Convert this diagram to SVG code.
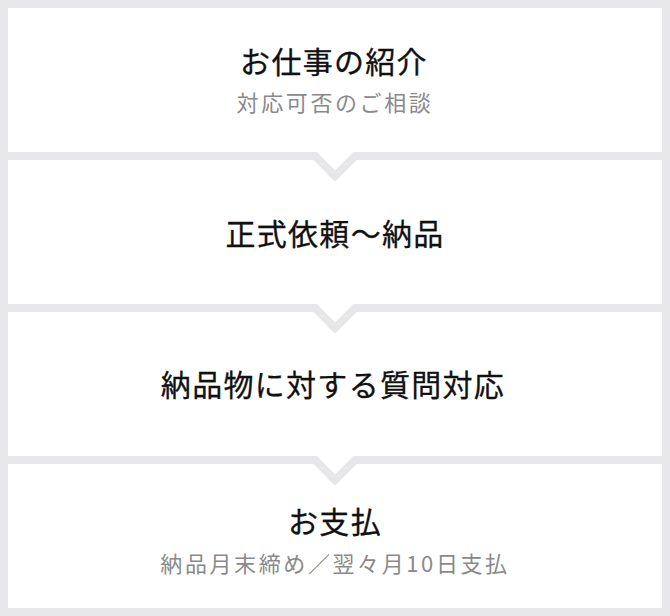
<svg xmlns="http://www.w3.org/2000/svg" width="670" height="616" viewBox="0 0 670 616">
  <style>
    .box { fill: #ffffff; }
    .title { font-family: "Noto Sans CJK JP", "Noto Sans", sans-serif; font-size: 30px; font-weight: 400; fill: #111111; stroke: #111111; stroke-width: 0.3px; text-anchor: middle; letter-spacing: 1.3px; }
    .sub { font-family: "Noto Sans CJK JP", "Noto Sans", sans-serif; font-size: 22px; font-weight: 400; fill: #8a8a8a; text-anchor: middle; letter-spacing: 2.6px; }
    .notch { fill: #ffffff; }
    .chev { fill: none; stroke: #e7e7e9; stroke-width: 8; stroke-linejoin: miter; stroke-miterlimit: 10; }
  </style>
  <rect x="0" y="0" width="670" height="616" fill="#e7e7e9"/>

  <g id="step1">
    <rect class="box" x="8" y="8" width="654" height="144"/>
    <text class="title" x="334" y="73">お仕事の紹介</text>
    <text class="sub" x="335" y="110.5">対応可否のご相談</text>
  </g>
  <g id="step2">
    <rect class="box" x="8" y="160" width="654" height="144"/>
    <text class="title" x="335" y="245">正式依頼〜納品</text>
  </g>
  <g id="step3">
    <rect class="box" x="8" y="312" width="654" height="144"/>
    <text class="title" x="333" y="396">納品物に対する質問対応</text>
  </g>
  <g id="step4">
    <rect class="box" x="8" y="464" width="654" height="144"/>
    <text class="title" x="335" y="533">お支払</text>
    <text class="sub" x="335" y="571.5">納品月末締め／翌々月10日支払</text>
  </g>

  <g id="connectors">
    <polygon class="notch" points="310,150 335,175 360,150"/>
    <polyline class="chev" points="8,156 315,156 335,176 355,156 662,156"/>
    <polygon class="notch" points="310,302 335,327 360,302"/>
    <polyline class="chev" points="8,308 315,308 335,328 355,308 662,308"/>
    <polygon class="notch" points="310,454 335,479 360,454"/>
    <polyline class="chev" points="8,460 315,460 335,480 355,460 662,460"/>
  </g>
</svg>
